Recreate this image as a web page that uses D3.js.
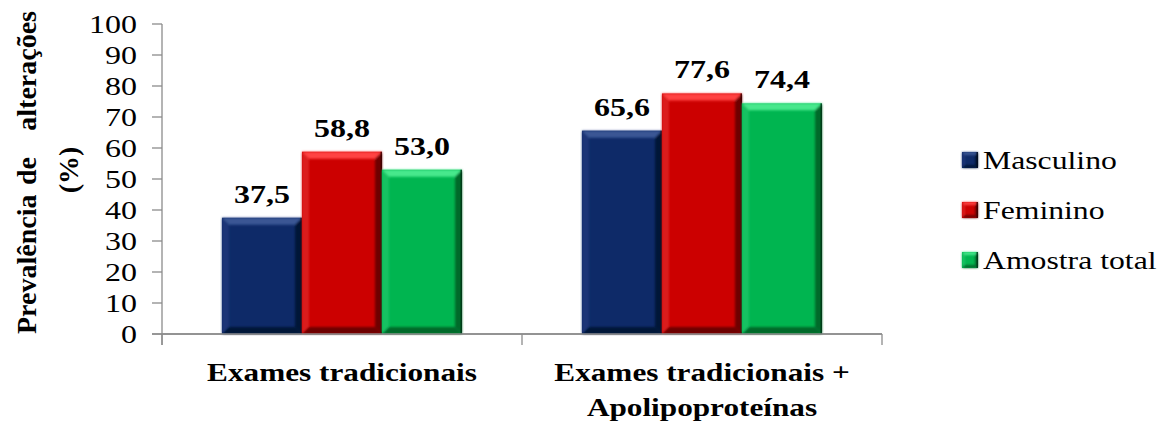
<!DOCTYPE html>
<html>
<head>
<meta charset="utf-8">
<script src="https://cdn.jsdelivr.net/npm/d3@7/dist/d3.min.js"></script>
<style>
  html, body { margin: 0; padding: 0; background: #fff; }
  svg { display: block; }
  text { font-family: "Liberation Serif", "Times New Roman", serif; fill: #000; }
</style>
</head>
<body>
<svg id="chart" width="1168" height="425"></svg>
<script>
// Prevalence of alterations (%) by sex and exam set
const categories = ["Exames tradicionais", "Exames tradicionais + Apolipoproteínas"];
const categoryLines = [["Exames tradicionais"], ["Exames tradicionais +", "Apolipoproteínas"]];
const seriesNames = ["Masculino", "Feminino", "Amostra total"];
const masculino = [37.5, 65.6];
const feminino = [58.8, 77.6];
const amostraTotal = [53.0, 74.4];
const yTicks = [0, 10, 20, 30, 40, 50, 60, 70, 80, 90, 100];

const seriesValues = [masculino, feminino, amostraTotal];
const palette = {
  "Masculino":     { base: "#0e2a68", light: "#3a5694", side: "#1a3677", dark: "#061638" },
  "Feminino":      { base: "#cc0000", light: "#ff4242", side: "#db1a1a", dark: "#6e0000" },
  "Amostra total": { base: "#00b550", light: "#46e88c", side: "#14c262", dark: "#006a2c" }
};

const svg = d3.select("#chart");
const plotLeft = 162, plotRight = 882, plotTop = 24, plotBottom = 334;
const SX = 1.28; // horizontal stretch of the lettering

const x0 = d3.scaleBand().domain(categories).range([plotLeft, plotRight])
  .paddingInner(1 / 3).paddingOuter(1 / 6);
const x1 = d3.scaleBand().domain(seriesNames).range([0, x0.bandwidth()]);
const y = d3.scaleLinear().domain([0, 100]).range([plotBottom, plotTop]);

const fmt = v => d3.format(".1f")(v).replace(".", ",");

const defs = svg.append("defs");
defs.append("filter").attr("id", "soft")
  .append("feGaussianBlur").attr("stdDeviation", 1.1);

// beveled bar: flat face with lit top/left and shaded right/bottom edges
function bevelBar(g, x, yTop, w, h, c, b) {
  const yb = yTop + h;
  g.append("rect").attr("x", x).attr("y", yTop).attr("width", w).attr("height", h)
    .attr("fill", c.base);
  const edges = g.append("g").attr("filter", "url(#soft)");
  edges.append("polygon").attr("fill", c.side)
    .attr("points", [[x, yTop], [x + b, yTop + b], [x + b, yb - b], [x, yb]].join(" "));
  edges.append("polygon").attr("fill", c.dark)
    .attr("points", [[x + w, yTop], [x + w, yb], [x + w - b, yb - b], [x + w - b, yTop + b]].join(" "));
  edges.append("polygon").attr("fill", c.dark)
    .attr("points", [[x, yb], [x + w, yb], [x + w - b, yb - b], [x + b, yb - b]].join(" "));
  edges.append("polygon").attr("fill", c.light)
    .attr("points", [[x, yTop], [x + w, yTop], [x + w - b, yTop + b], [x + b, yTop + b]].join(" "));
  g.append("rect").attr("x", x + w - 1.5).attr("y", yTop).attr("width", 1.5).attr("height", h)
    .attr("fill", "#000").attr("opacity", 0.55);
}

// stretched text helper
function label(g, x, yPos, str, opts = {}) {
  return g.append("text")
    .attr("transform", `translate(${x},${yPos}) scale(${opts.sx || SX},1)`)
    .attr("text-anchor", opts.anchor || "middle")
    .attr("font-size", opts.size || 25)
    .attr("font-weight", opts.bold ? "bold" : "normal")
    .attr("dy", opts.dy || 0)
    .text(str);
}

// axes
const axisColor = "#8c8c8c";
const axes = svg.append("g").attr("stroke", axisColor).attr("stroke-width", 1.3).attr("fill", "none");
axes.append("line").attr("x1", plotLeft).attr("x2", plotLeft).attr("y1", y(100)).attr("y2", plotBottom + 11);
yTicks.forEach(t => {
  axes.append("line").attr("x1", plotLeft - 10).attr("x2", plotLeft).attr("y1", y(t)).attr("y2", y(t));
});
axes.append("line").attr("x1", plotLeft - 10).attr("x2", plotRight).attr("y1", plotBottom).attr("y2", plotBottom);
const xEdges = [plotLeft, ...categories.slice(1).map(c => x0(c) - x0.step() * x0.paddingInner() / 2), plotRight];
xEdges.forEach(xe => {
  axes.append("line").attr("x1", xe).attr("x2", xe).attr("y1", plotBottom).attr("y2", plotBottom + 11);
});

// y tick labels
const yLab = svg.append("g");
yTicks.forEach(t => label(yLab, 137, y(t), String(t), { anchor: "end", size: 25, dy: "0.34em" }));

// bars
const barsG = svg.append("g");
categories.forEach((cat, ci) => {
  seriesNames.forEach((s, si) => {
    const v = seriesValues[si][ci];
    const bx = x0(cat) + x1(s);
    bevelBar(barsG.append("g"), bx, y(v), x1.bandwidth(), plotBottom - y(v), palette[s], 7);
  });
});

// x axis line drawn over bar bottoms
svg.append("line").attr("x1", plotLeft).attr("x2", plotRight).attr("y1", plotBottom).attr("y2", plotBottom)
  .attr("stroke", axisColor).attr("stroke-width", 1.3);

// value labels
const valG = svg.append("g");
categories.forEach((cat, ci) => {
  seriesNames.forEach((s, si) => {
    const v = seriesValues[si][ci];
    label(valG, x0(cat) + x1(s) + x1.bandwidth() / 2, y(v) - 15, fmt(v), { bold: true, size: 25 });
  });
});

// category labels
const catG = svg.append("g");
categories.forEach((cat, ci) => {
  categoryLines[ci].forEach((line, li) => {
    label(catG, x0(cat) + x0.bandwidth() / 2, 381 + li * 35, line, { bold: true, size: 25, sx: 1.25 });
  });
});

// y axis title (two lines, words spread along the axis)
const titleG = svg.append("g");
function vword(xPos, yPos, str, anchor) {
  titleG.append("text")
    .attr("transform", `translate(${xPos},${yPos}) rotate(-90)`)
    .attr("text-anchor", anchor).attr("font-weight", "bold").attr("font-size", 28)
    .attr("dy", "0.34em").text(str);
}
vword(26, plotBottom, "Prevalência", "start");
vword(26, 171, "de", "middle");
vword(26, 11, "alterações", "end");
vword(68, 170, "(%)", "middle");

// legend
const legG = svg.append("g");
seriesNames.forEach((s, i) => {
  const ly = 160 + i * 50;
  bevelBar(legG.append("g"), 962, ly - 8, 16, 16, palette[s], 3);
  label(legG, 983, ly, s, { anchor: "start", size: 26, sx: 1.22, dy: "0.34em" });
});
</script>
</body>
</html>
